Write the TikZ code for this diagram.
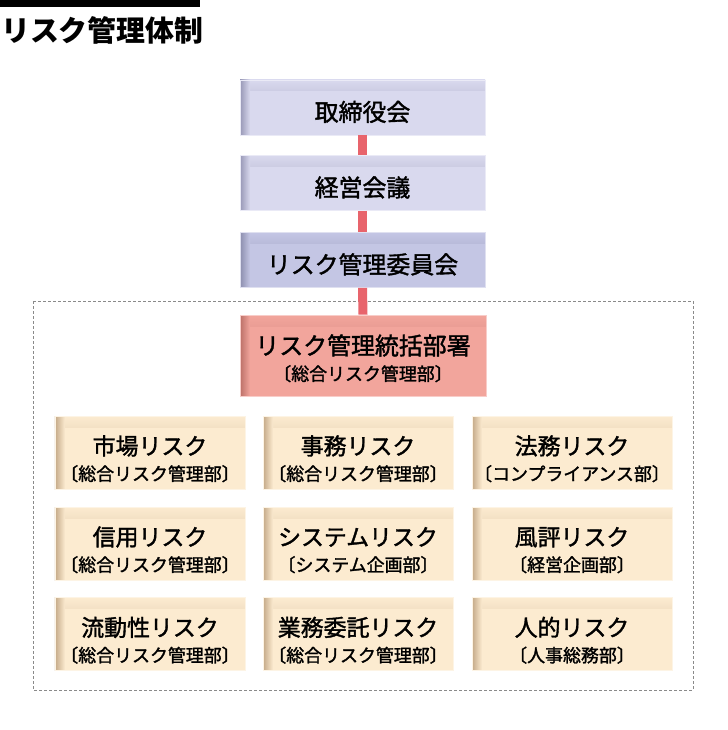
\documentclass[tikz,border=0pt]{standalone}
\usepackage{fontspec}
\newfontfamily\jp{Noto Sans CJK JP}[FakeBold=1.6]
\newfontfamily\jptitle{Noto Sans CJK JP}
\definecolor{blueF}{HTML}{D9D9EE}
\definecolor{blueS}{HTML}{9898B6}
\definecolor{blue3F}{HTML}{C4C6E4}
\definecolor{blue3S}{HTML}{8C8EAE}
\definecolor{pinkF}{HTML}{F2A59C}
\definecolor{pinkS}{HTML}{BC7068}
\definecolor{beigeF}{HTML}{FCEBD0}
\definecolor{beigeS}{HTML}{C4A988}
\definecolor{connRed}{HTML}{E8646C}
\definecolor{dashGray}{HTML}{8A8A8A}
\tikzset{
  rbox/.style 2 args={fill=#1, draw=#1!55!white, line width=0.8bp, inner sep=0pt,
    path picture={
      \shade[top color=#1, bottom color=#2]
        (path picture bounding box.north west) rectangle ([yshift=-11bp]path picture bounding box.north east);
      \shade[left color=#2, right color=#1]
        (path picture bounding box.north west) rectangle ([xshift=10bp]path picture bounding box.south west);
    }},
  topbox/.style={minimum width=245bp, minimum height=55bp, text height=30bp, text depth=3bp,
    font=\jp\fontsize{24}{26}\selectfont},
  gbox/.style={rbox={beigeF}{beigeS}, minimum height=73bp, align=center,
    font=\jp\fontsize{18}{26}\selectfont, text height=59bp, text depth=3bp},
  conn/.style={line width=9bp, draw=connRed},
  groupframe/.style={draw=dashGray, line width=1bp, dash pattern=on 3bp off 2bp}
}
\newcommand{\mainline}[1]{{\fontsize{23}{26}\selectfont #1}}
\begin{document}
\begin{tikzpicture}[x=1bp,y=-1bp]
\useasboundingbox (0,0) rectangle (728,730);
\fill[white] (0,0) rectangle (728,730);
\fill[black] (0,0) rectangle (200,7);
\node[anchor=base west, inner sep=0pt, font=\jptitle\bfseries\fontsize{29}{29}\selectfont] (title) at (1,42) {リスク管理体制};

\draw[groupframe] (33,301) rectangle (693,690);

\node[topbox, rbox={blueF}{blueS}] (b1) at (362.5,107.5) {取締役会};
\node[topbox, rbox={blueF}{blueS}] (b2) at (362.5,183) {経営会議};
\node[topbox, rbox={blue3F}{blue3S}] (b3) at (362.5,260) {リスク管理委員会};
\node[rbox={pinkF}{pinkS}, minimum width=246bp, minimum height=81bp, align=center,
  font=\jp\fontsize{18}{26}\selectfont, text height=53bp, text depth=3bp] (hq) at (363,355.5)
  {{\fontsize{24}{26}\selectfont リスク管理統括部署}\\〔総合リスク管理部〕};

\draw[conn] (b1.south) -- (b2.north);
\draw[conn] (b2.south) -- (b3.north);
\draw[conn] (b3.south) -- (hq.north);

\node[gbox, minimum width=190bp] (g11) at (150,452.5) {\mainline{市場リスク}\\〔総合リスク管理部〕};
\node[gbox, minimum width=190bp] (g12) at (358,452.5) {\mainline{事務リスク}\\〔総合リスク管理部〕};
\node[gbox, minimum width=200bp] (g13) at (572,452.5) {\mainline{法務リスク}\\〔コンプライアンス部〕};
\node[gbox, minimum width=190bp] (g21) at (150,543.5) {\mainline{信用リスク}\\〔総合リスク管理部〕};
\node[gbox, minimum width=190bp] (g22) at (358,543.5) {\mainline{システムリスク}\\〔システム企画部〕};
\node[gbox, minimum width=200bp] (g23) at (572,543.5) {\mainline{風評リスク}\\〔経営企画部〕};
\node[gbox, minimum width=190bp] (g31) at (150,634) {\mainline{流動性リスク}\\〔総合リスク管理部〕};
\node[gbox, minimum width=190bp] (g32) at (358,634) {\mainline{業務委託リスク}\\〔総合リスク管理部〕};
\node[gbox, minimum width=200bp] (g33) at (572,634) {\mainline{人的リスク}\\〔人事総務部〕};
\end{tikzpicture}
\end{document}
